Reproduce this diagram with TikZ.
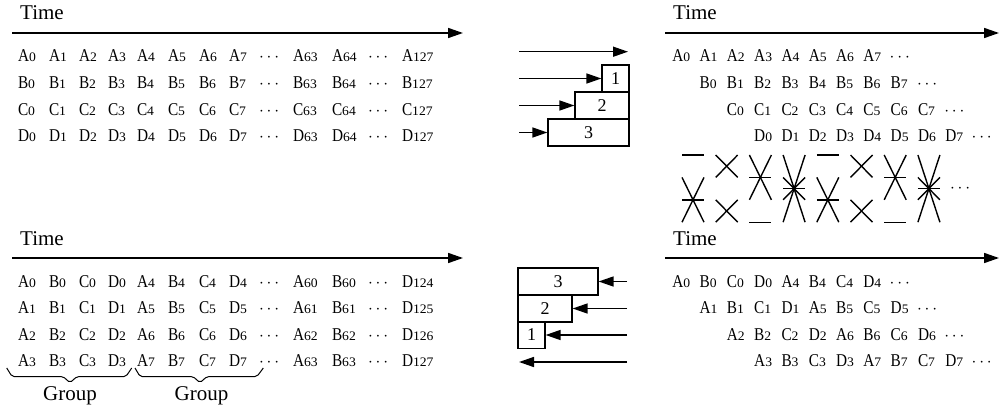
\documentclass[tikz,border=0pt]{standalone}
\usepackage{fontspec}
\setmainfont{Liberation Serif}
\newfontfamily\letf[FakeStretch=0.85]{Liberation Serif}
\newfontfamily\digf[FakeStretch=1.05]{Liberation Serif}
\usetikzlibrary{arrows.meta}
\newcommand\Tok[2]{{\fontsize{18}{18}\letf #1}{\fontsize{13}{13}\digf #2}}
\newcommand\Dts{{\fontsize{16}{16}\selectfont$\cdots$}}
\tikzset{
 tok/.style={anchor=base west, inner sep=0pt, outer sep=0pt},
 timelbl/.style={anchor=base west, inner sep=0pt, font=\fontsize{21}{21}\selectfont},
 grplbl/.style={anchor=base, inner sep=0pt, font=\fontsize{21}{21}\selectfont},
 axis/.style={line width=1.6pt, -{Triangle[length=15pt,width=10pt]}},
 sarrow/.style={line width=1.5pt, -{Triangle[length=15pt,width=10pt]}},
 stagebox/.style={draw, line width=1.2pt, inner sep=0pt, minimum height=27pt, font=\fontsize{18}{18}\selectfont},
 cross/.style={line width=1.4pt},
 bracel/.style={line width=1pt, rounded corners=2pt},
}
\begin{document}
\begin{tikzpicture}[x=1pt,y=-1pt]
\fill[white] (0,0) rectangle (1000,406);
\useasboundingbox (0,0) rectangle (1000,406);

% ---------- Time labels and axes ----------
\node[timelbl] (time1) at (20,20) {Time};
\node[timelbl] (time2) at (673,20) {Time};
\node[timelbl] (time3) at (20,245) {Time};
\node[timelbl] (time4) at (673,245) {Time};
\coordinate (ax1s) at (12,33);  \coordinate (ax1e) at (463,33);
\coordinate (ax2s) at (665,33); \coordinate (ax2e) at (999,33);
\coordinate (ax3s) at (12,258); \coordinate (ax3e) at (463,258);
\coordinate (ax4s) at (665,258); \coordinate (ax4e) at (999,258);
\draw[axis] (ax1s) -- (ax1e);
\draw[axis] (ax2s) -- (ax2e);
\draw[axis] (ax3s) -- (ax3e);
\draw[axis] (ax4s) -- (ax4e);

% ---------- top-left grid ----------
\foreach \Lt [count=\ri from 0] in {A,B,C,D}{
  \pgfmathsetmacro\yy{62+26.6*\ri}
  \foreach \nn/\xx in {0/18,1/49,2/79,3/108,4/137,5/168,6/199,7/229,63/293,64/332,127/402}
    \node[tok] (tl\Lt\nn) at (\xx,\yy) {\Tok{\Lt}{\nn}};
  \node[tok] (tl\Lt da) at (259,\yy) {\Dts};
  \node[tok] (tl\Lt db) at (368,\yy) {\Dts};
}

% ---------- bottom-left grid ----------
\foreach \ri in {0,1,2,3}{
  \pgfmathsetmacro\yy{287+26.6*\ri}
  \pgfmathtruncatemacro\ss{\ri+4}
  \pgfmathtruncatemacro\uu{\ri+60}
  \pgfmathtruncatemacro\vv{\ri+124}
  \foreach \Lt/\nn/\xx in {A/\ri/18,B/\ri/49,C/\ri/79,D/\ri/108,A/\ss/137,B/\ss/168,C/\ss/199,D/\ss/229,A/\uu/293,B/\uu/332,D/\vv/402}
    \node[tok] (bl\ri-\xx) at (\xx,\yy) {\Tok{\Lt}{\nn}};
  \node[tok] (bl\ri da) at (259,\yy) {\Dts};
  \node[tok] (bl\ri db) at (368,\yy) {\Dts};
}

% ---------- top-right staggered grid ----------
\foreach \Lt [count=\ri from 0] in {A,B,C,D}{
  \pgfmathsetmacro\yy{62+26.6*\ri}
  \foreach \nn in {0,...,7}{
    \pgfmathsetmacro\xx{672.3+27.3*(\ri+\nn)}
    \node[tok] (tr\Lt\nn) at (\xx,\yy) {\Tok{\Lt}{\nn}};
  }
  \pgfmathsetmacro\xx{672.3+27.3*(\ri+8)-1}
  \node[tok] (tr\Lt d) at (\xx,\yy) {\Dts};
}

% ---------- bottom-right staggered grid ----------
\foreach \ri in {0,1,2,3}{
  \pgfmathsetmacro\yy{287+26.6*\ri}
  \foreach \ci/\Lt in {0/A,1/B,2/C,3/D,4/A,5/B,6/C,7/D}{
    \pgfmathtruncatemacro\nn{\ri+4*floor(\ci/4)}
    \pgfmathsetmacro\xx{672.3+27.3*(\ri+\ci)}
    \node[tok] (br\ri-\ci) at (\xx,\yy) {\Tok{\Lt}{\nn}};
  }
  \pgfmathsetmacro\xx{672.3+27.3*(\ri+8)-1}
  \node[tok] (br\ri d) at (\xx,\yy) {\Dts};
}

% ---------- top middle: staged boxes ----------
\node[stagebox, minimum width=27pt] (tb1) at (615.5,78.5) {1};
\node[stagebox, minimum width=54pt] (tb2) at (602,105.5) {2};
\node[stagebox, minimum width=81pt] (tb3) at (588.5,132.5) {3};
\coordinate (ts0) at (519,51.7); \coordinate (te0) at (628,51.7);
\coordinate (ts1) at (519,78.5);
\coordinate (ts2) at (519,105.5);
\coordinate (ts3) at (519,132.5);
\draw[sarrow] (ts0) -- (te0);
\draw[sarrow] (ts1) -- (tb1.west);
\draw[sarrow] (ts2) -- (tb2.west);
\draw[sarrow] (ts3) -- (tb3.west);

% ---------- bottom middle: staged boxes ----------
\node[stagebox, minimum width=80pt] (bb3) at (558,281.5) {3};
\node[stagebox, minimum width=54pt] (bb2) at (545,308.5) {2};
\node[stagebox, minimum width=27pt] (bb1) at (531.5,335) {1};
\coordinate (bs3) at (627,281.5);
\coordinate (bs2) at (627,308.5);
\coordinate (bs1) at (627,335);
\coordinate (bs0) at (627,362); \coordinate (be0) at (519,362);
\draw[sarrow] (bs3) -- (bb3.east);
\draw[sarrow] (bs2) -- (bb2.east);
\draw[sarrow] (bs1) -- (bb1.east);
\draw[sarrow] (bs0) -- (be0);

% ---------- crossing patterns ----------
\def\ya{155}\def\yb{177.4}\def\yc{199.8}\def\yd{222.2}\def\ym{188.6}\def\W{22}
\foreach \kk in {0,1}{
  \pgfmathsetmacro\xa{682+134.8*\kk}
  \pgfmathsetmacro\xb{\xa+33.7}
  \pgfmathsetmacro\xc{\xa+67.4}
  \pgfmathsetmacro\xd{\xa+101.1}
  % pattern 1
  \draw[cross] (\xa,\ya) -- ++(\W,0);
  \draw[cross] (\xa,\yb) -- (\xa+\W,\yd);
  \draw[cross] (\xa,\yd) -- (\xa+\W,\yb);
  \draw[cross] (\xa,\yc) -- ++(\W,0);
  % pattern 2
  \draw[cross] (\xb,\ya) -- (\xb+\W,\yb);
  \draw[cross] (\xb,\yb) -- (\xb+\W,\ya);
  \draw[cross] (\xb,\yc) -- (\xb+\W,\yd);
  \draw[cross] (\xb,\yd) -- (\xb+\W,\yc);
  % pattern 3
  \draw[cross] (\xc,\ya) -- (\xc+\W,\yc);
  \draw[cross] (\xc,\yc) -- (\xc+\W,\ya);
  \draw[cross] (\xc,\yb) -- ++(\W,0);
  \draw[cross] (\xc,\yd) -- ++(\W,0);
  % pattern 4
  \draw[cross] (\xd,\ya) -- (\xd+\W,\yd);
  \draw[cross] (\xd,\yd) -- (\xd+\W,\ya);
  \draw[cross] (\xd,\yb) -- (\xd+\W,\yc);
  \draw[cross] (\xd,\yc) -- (\xd+\W,\yb);
  \draw[cross] (\xd,\ym) -- ++(\W,0);
}
\node[tok] (xdots) at (950,193) {\Dts};

% ---------- braces and Group labels ----------
\draw[bracel] (6.7,368) -- (12,376.5) -- (63,376.5) -- (70,382.7) -- (77,376.5) -- (126,376.5) -- (131.7,368);
\draw[bracel] (135,368) -- (140,376.5) -- (193,376.5) -- (200,382.7) -- (207,376.5) -- (257,376.5) -- (263.3,368);
\node[grplbl] (grp1) at (70,400) {Group};
\node[grplbl] (grp2) at (201.5,400) {Group};
\end{tikzpicture}
\end{document}
